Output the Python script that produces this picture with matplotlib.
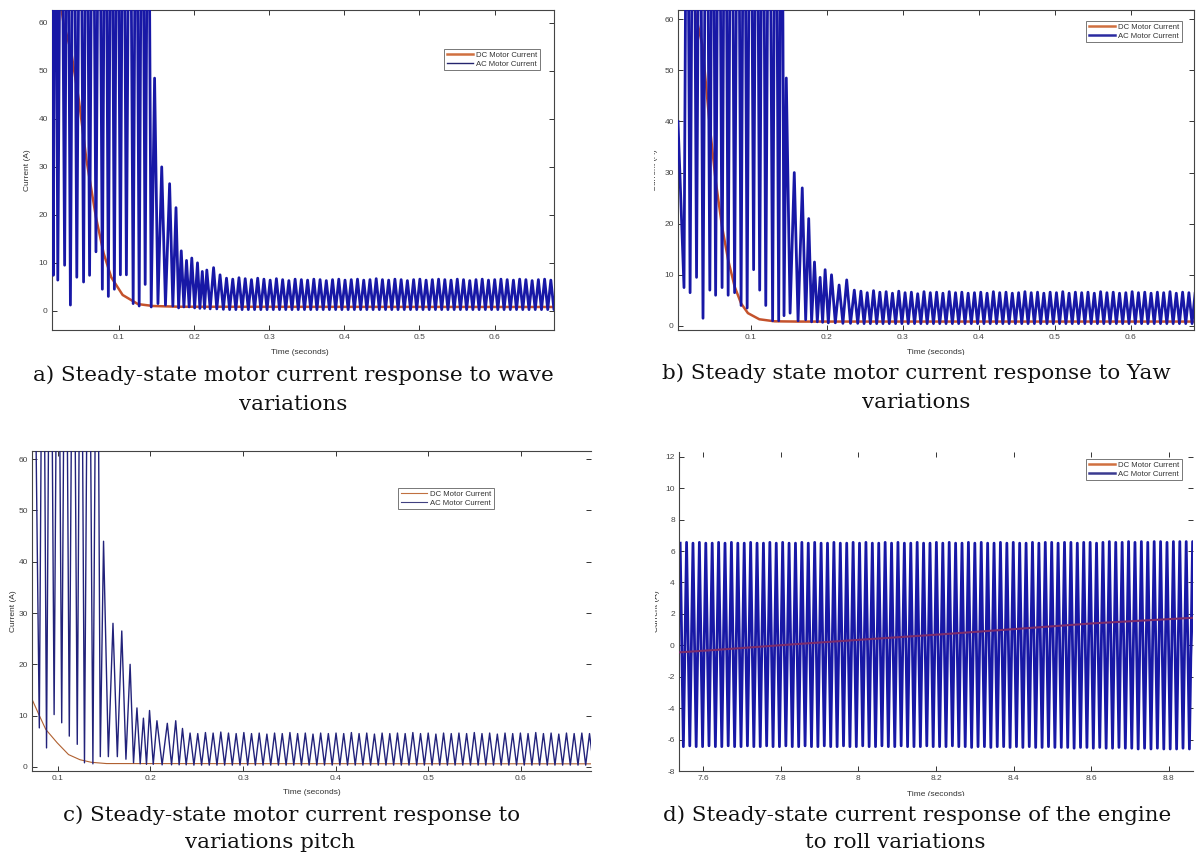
import numpy as np
import matplotlib
matplotlib.use('Agg')
import matplotlib.pyplot as plt
from matplotlib.lines import Line2D
from matplotlib.transforms import Bbox

plt.rcParams['axes.unicode_minus'] = False

# ---------------- data ----------------
# value 120 = spike that runs beyond the top of the axes (clipped)
# Panel a: wave variations
a_dc_t = [0.0235, 0.0263, 0.0365, 0.0467, 0.0568, 0.0695, 0.0797, 0.0898, 0.105, 0.1254, 0.1457, 0.18, 0.68]
a_dc_v = [63.0, 60.0, 54.0, 44.0, 31.5, 19.5, 12.0, 7.0, 3.3, 1.4, 1.0, 0.85, 0.8]
a_tr_t = [0.0105, 0.0127, 0.0157, 0.0187, 0.0232, 0.0278, 0.0316, 0.0355, 0.0398, 0.0440,
          0.0485, 0.0530, 0.0570, 0.0610, 0.0652, 0.0695, 0.0738, 0.0780, 0.0820, 0.0860,
          0.0900, 0.0940, 0.0980, 0.1020, 0.1060, 0.1100, 0.1145, 0.1190, 0.1230, 0.1270,
          0.1310, 0.1350, 0.1390, 0.1430, 0.1475, 0.1520, 0.1570, 0.1620, 0.1675, 0.1718,
          0.1760, 0.1795, 0.1830, 0.1865, 0.1900, 0.1935, 0.1970, 0.2008, 0.2046, 0.2078,
          0.2110, 0.2140, 0.2170, 0.2215, 0.2260, 0.2303, 0.2346, 0.2390]
a_tr_v = [120, 7.4, 120, 6.4, 120, 9.5, 120, 1.2, 120, 7.0,
          120, 6.0, 120, 7.4, 120, 12.3, 120, 4.5, 120, 3.0,
          120, 4.5, 120, 7.5, 120, 7.5, 120, 1.5, 120, 1.0,
          120, 5.5, 120, 0.8, 48.5, 1.5, 30.0, 1.2, 26.5, 1.0,
          21.5, 0.6, 12.5, 0.8, 10.5, 0.8, 11.0, 0.6, 10.0, 0.5,
          8.2, 0.5, 8.5, 0.4, 9.0, 0.4, 7.5, 0.3]
a_ss_t0, a_ss_period, a_ss_trough = 0.2432, 0.0083, 0.25
a_ss_peak = [6.8, 6.6, 6.9, 6.7, 6.5, 6.8, 6.6, 6.4, 6.7, 6.5,
             6.3, 6.6, 6.5, 6.4, 6.6, 6.5, 6.3, 6.5, 6.6, 6.4,
             6.5, 6.6, 6.4, 6.5, 6.7, 6.5, 6.4, 6.6, 6.5, 6.3,
             6.5, 6.6, 6.4, 6.5, 6.6, 6.5, 6.4, 6.6, 6.5, 6.3,
             6.5, 6.6, 6.4, 6.5, 6.6, 6.5, 6.4, 6.6, 6.5, 6.3,
             6.5, 6.6, 6.4, 6.5, 6.6]

# Panel b: yaw variations
b_dc_t = [0.026, 0.0284, 0.036, 0.0459, 0.0535, 0.062, 0.070, 0.0785, 0.087, 0.096, 0.111, 0.131, 0.161, 0.685]
b_dc_v = [62.0, 60.0, 55.0, 39.0, 28.5, 19.4, 12.9, 7.7, 4.4, 2.5, 1.3, 0.9, 0.85, 0.85]
b_tr_t = [0.0040, 0.0119, 0.0159, 0.0199, 0.0242, 0.0284, 0.0326, 0.0369, 0.0414, 0.0459,
          0.0497, 0.0535, 0.0578, 0.0620, 0.0660, 0.0700, 0.0742, 0.0785, 0.0828, 0.0870,
          0.0910, 0.0950, 0.0992, 0.1035, 0.1075, 0.1115, 0.1155, 0.1195, 0.1240, 0.1285,
          0.1325, 0.1365, 0.1405, 0.1435, 0.1465, 0.1515, 0.1570, 0.1620, 0.1675, 0.1720,
          0.1760, 0.1798, 0.1836, 0.1873, 0.1910, 0.1943, 0.1976, 0.2018, 0.2060, 0.2110,
          0.2160, 0.2210, 0.2260, 0.2310, 0.2360, 0.2405]
b_tr_v = [40, 7.5, 120, 6.5, 120, 9.5, 120, 1.5, 120, 7.0,
          120, 6.0, 120, 7.5, 120, 6.0, 120, 6.5, 120, 4.0,
          120, 3.5, 120, 11.0, 120, 7.0, 120, 4.0, 120, 1.0,
          120, 1.0, 120, 2.0, 48.5, 2.5, 30.0, 1.0, 27.0, 1.2,
          21.0, 0.8, 12.5, 0.8, 9.5, 0.7, 11.0, 0.6, 10.0, 0.6,
          8.0, 0.5, 9.0, 0.5, 7.0, 0.5]
b_ss_t0, b_ss_period, b_ss_trough = 0.2447, 0.0083, 0.45
b_ss_peak = [6.8, 6.5, 6.9, 6.6, 6.7, 6.4, 6.8, 6.5, 6.6, 6.3,
             6.7, 6.5, 6.6, 6.4, 6.7, 6.5, 6.6, 6.4, 6.5, 6.6,
             6.4, 6.7, 6.5, 6.6, 6.4, 6.5, 6.7, 6.5, 6.6, 6.4,
             6.6, 6.5, 6.7, 6.4, 6.6, 6.5, 6.6, 6.4, 6.7, 6.5,
             6.6, 6.4, 6.5, 6.7, 6.5, 6.6, 6.4, 6.6, 6.5, 6.7,
             6.4, 6.6, 6.5, 6.6, 6.5]

# Panel c: pitch variations
c_dc_t = [0.072, 0.0787, 0.0869, 0.0992, 0.1115, 0.1238, 0.136, 0.1525, 0.68]
c_dc_v = [13.2, 10.5, 7.3, 4.7, 2.4, 1.4, 0.9, 0.65, 0.6]
c_tr_t = [0.0728, 0.0799, 0.0838, 0.0877, 0.0918, 0.0959, 0.1000, 0.1041, 0.1082, 0.1123,
          0.1166, 0.1209, 0.1248, 0.1287, 0.1332, 0.1378, 0.1423, 0.1458, 0.1493, 0.1545,
          0.1595, 0.1642, 0.1690, 0.1735, 0.1780, 0.1817, 0.1854, 0.1889, 0.1924, 0.1957,
          0.1990, 0.2030, 0.2070, 0.2126, 0.2182, 0.2228, 0.2273, 0.2310, 0.2346, 0.2386]
c_tr_v = [120, 7.6, 120, 3.7, 120, 10.2, 120, 8.6, 120, 6.0,
          120, 4.4, 120, 0.8, 120, 0.6, 120, 2.0, 44.0, 2.0,
          28.0, 2.0, 26.5, 1.5, 20.0, 0.8, 11.5, 0.6, 9.5, 0.5,
          11.0, 0.5, 9.0, 0.4, 8.5, 0.4, 9.0, 0.4, 7.5, 0.4]
c_ss_t0, c_ss_period, c_ss_trough = 0.2428, 0.0083, 0.35
c_ss_peak = [6.6, 6.5, 6.7, 6.6, 6.8, 6.6, 6.5, 6.7, 6.5, 6.6,
             6.4, 6.6, 6.5, 6.7, 6.5, 6.6, 6.4, 6.6, 6.5, 6.6,
             6.5, 6.7, 6.5, 6.6, 6.4, 6.6, 6.5, 6.6, 6.5, 6.7,
             6.5, 6.6, 6.4, 6.6, 6.5, 6.6, 6.5, 6.7, 6.5, 6.6,
             6.4, 6.6, 6.5, 6.6, 6.5, 6.7, 6.5, 6.6, 6.4, 6.6,
             6.5, 6.6, 6.5, 6.6, 6.5]

# Panel d: roll variations
d_dc_t = [7.538, 7.629, 7.825, 8.021, 8.216, 8.412, 8.607, 8.862]
d_dc_v = [-0.45, -0.3, 0.05, 0.38, 0.7, 1.05, 1.4, 1.75]
d_t0, d_period = 7.541, 0.0165
d_peak = [6.5, 6.55, 6.5, 6.55, 6.5, 6.5, 6.55, 6.5, 6.55, 6.5,
          6.5, 6.55, 6.5, 6.5, 6.55, 6.5, 6.55, 6.5, 6.5, 6.55,
          6.5, 6.55, 6.5, 6.5, 6.55, 6.5, 6.5, 6.55, 6.5, 6.55,
          6.5, 6.5, 6.55, 6.5, 6.55, 6.5, 6.5, 6.55, 6.5, 6.5,
          6.55, 6.5, 6.55, 6.5, 6.5, 6.55, 6.5, 6.55, 6.5, 6.5,
          6.55, 6.5, 6.55, 6.5, 6.5, 6.55, 6.5, 6.55, 6.55, 6.5,
          6.55, 6.55, 6.5, 6.55, 6.55, 6.5, 6.55, 6.6, 6.55, 6.55,
          6.6, 6.55, 6.6, 6.55, 6.6, 6.6, 6.55, 6.6, 6.6, 6.6, 6.6, 6.6]
d_trough = [-6.45, -6.4, -6.45, -6.45, -6.4, -6.45, -6.45, -6.4, -6.45, -6.45,
            -6.4, -6.45, -6.45, -6.4, -6.45, -6.45, -6.4, -6.45, -6.45, -6.4,
            -6.45, -6.45, -6.4, -6.45, -6.45, -6.4, -6.45, -6.45, -6.4, -6.45,
            -6.45, -6.4, -6.45, -6.45, -6.4, -6.45, -6.45, -6.45, -6.4, -6.45,
            -6.45, -6.45, -6.4, -6.45, -6.45, -6.5, -6.45, -6.45, -6.5, -6.45,
            -6.45, -6.5, -6.45, -6.5, -6.45, -6.5, -6.5, -6.45, -6.5, -6.5,
            -6.5, -6.55, -6.5, -6.5, -6.55, -6.5, -6.55, -6.55, -6.5, -6.55,
            -6.55, -6.6, -6.55, -6.6, -6.55, -6.6, -6.6, -6.6, -6.55, -6.6, -6.6, -6.6]

time_ticks = [0.1, 0.2, 0.3, 0.4, 0.5, 0.6]
time_ticklabels = ['0.1', '0.2', '0.3', '0.4', '0.5', '0.6']
amp_ticks = [0, 10, 20, 30, 40, 50, 60]
d_xticks = [7.6, 7.8, 8.0, 8.2, 8.4, 8.6, 8.8]
d_xticklabels = ['7.6', '7.8', '8', '8.2', '8.4', '8.6', '8.8']
d_yticks = [-8, -6, -4, -2, 0, 2, 4, 6, 8, 10, 12]

legend_labels = ['DC Motor Current', 'AC Motor Current']
captions = {
    'a': ['a) Steady-state motor current response to wave', 'variations'],
    'b': ['b) Steady state motor current response to Yaw', 'variations'],
    'c': ['c) Steady-state motor current response to', 'variations pitch'],
    'd': ['d) Steady-state current response of the engine', 'to roll variations'],
}

# ---------------- helpers ----------------
W, H = 1196, 856
fig = plt.figure(figsize=(W / 100, H / 100), dpi=100)


def rect(l, t, r, b):
    return [l / W, 1 - b / H, (r - l) / W, (b - t) / H]


def humps(t0, period, peaks, troughs):
    t, v = [], []
    for i, p in enumerate(peaks):
        q = troughs[i] if np.ndim(troughs) else troughs
        t.extend([t0 + i * period, t0 + (i + 0.5) * period])
        v.extend([p, q])
    return t, v


def style(ax, hide_top=False, hide_right=False):
    for s in ax.spines.values():
        s.set_color('#444444')
        s.set_linewidth(0.8)
    if hide_top:
        ax.spines['top'].set_visible(False)
    if hide_right:
        ax.spines['right'].set_visible(False)
    ax.tick_params(direction='in', top=True, right=True, length=3.5, width=0.7,
                   labelsize=6, labelcolor='#444444', color='#333333', pad=3)
    for lab in ax.get_xticklabels() + ax.get_yticklabels():
        lab.set_family('Liberation Sans')


def legend(ax, l, t, dc_col, ac_col, dc_lw, ac_lw):
    hs = [Line2D([], [], color=dc_col, lw=dc_lw), Line2D([], [], color=ac_col, lw=ac_lw)]
    lg = ax.legend(hs, legend_labels, loc='upper left', bbox_to_anchor=(l / W, 1 - t / H),
                   bbox_transform=fig.transFigure, borderaxespad=0,
                   handlelength=3.4, handletextpad=0.4, borderpad=0.35, labelspacing=0.12,
                   fancybox=False, framealpha=1, prop={'family': 'Liberation Sans', 'size': 5.6})
    lg.get_frame().set_edgecolor('#777777')
    lg.get_frame().set_linewidth(0.7)
    for txt in lg.get_texts():
        txt.set_color('#333333')


def ac_panel(ax, tr_t, tr_v, t0, per, peaks, trough, dc_t, dc_v, ac_col, ac_lw, dc_col, dc_lw):
    st, sv = humps(t0, per, peaks, trough)
    ax.plot(dc_t, dc_v, color=dc_col, lw=dc_lw, zorder=2)
    ax.plot(list(tr_t) + st, list(tr_v) + sv, color=ac_col, lw=ac_lw,
            solid_joinstyle='round', zorder=3)


AC_BLUE = '#1818a6'
DC_RED = '#c4522c'

# ---------------- panel a ----------------
ax = fig.add_axes(rect(52, 10, 554, 330))
ac_panel(ax, a_tr_t, a_tr_v, a_ss_t0, a_ss_period, a_ss_peak, a_ss_trough,
         a_dc_t, a_dc_v, AC_BLUE, 2.0, DC_RED, 1.8)
ax.set_xlim(0.011, 0.679)
ax.set_ylim(-4.0, 62.7)
ax.set_xticks(time_ticks, time_ticklabels)
ax.set_yticks(amp_ticks)
style(ax)
legend(ax, 444, 49, '#d07040', '#24246e', 1.8, 1.0)

# ---------------- panel b ----------------
ax = fig.add_axes(rect(678, 10, 1194, 330))
ac_panel(ax, b_tr_t, b_tr_v, b_ss_t0, b_ss_period, b_ss_peak, b_ss_trough,
         b_dc_t, b_dc_v, AC_BLUE, 2.0, DC_RED, 1.8)
ax.set_xlim(0.004, 0.683)
ax.set_ylim(-0.8, 61.8)
ax.set_xticks(time_ticks, time_ticklabels)
ax.set_yticks(amp_ticks)
style(ax)
legend(ax, 1086, 21, '#d07040', '#2a2aa0', 1.8, 1.8)

# ---------------- panel c ----------------
ax = fig.add_axes(rect(32, 451, 591, 771))
ac_panel(ax, c_tr_t, c_tr_v, c_ss_t0, c_ss_period, c_ss_peak, c_ss_trough,
         c_dc_t, c_dc_v, '#22227a', 1.0, '#b06030', 0.8)
ax.set_xlim(0.072, 0.676)
ax.set_ylim(-0.8, 61.6)
ax.set_xticks(time_ticks, time_ticklabels)
ax.set_yticks(amp_ticks)
style(ax, hide_right=True)
legend(ax, 398, 488, '#c07040', '#404080', 0.8, 0.8)

# ---------------- panel d ----------------
ax = fig.add_axes(rect(679, 452, 1193, 771))
dt, dv = humps(d_t0, d_period, d_peak, d_trough)
ax.plot(dt, dv, color=AC_BLUE, lw=2.0, solid_joinstyle='round', zorder=2)
ax.plot(d_dc_t, d_dc_v, color='#7c2c6c', lw=1.5, zorder=3)
ax.set_xlim(7.538, 8.862)
ax.set_ylim(-8.0, 12.3)
ax.set_xticks(d_xticks, d_xticklabels)
ax.set_yticks(d_yticks)
style(ax, hide_top=True, hide_right=True)
legend(ax, 1086, 459, '#d07040', '#3a3a90', 1.8, 1.8)

# ---------------- axis labels ----------------
lab_kw = dict(fontsize=6, color='#333333', family='Liberation Sans', ha='center', va='center')
fig.text(28 / W, 1 - 170 / H, 'Current (A)', rotation=90, **lab_kw)
tb = fig.text(655 / W, 1 - 170 / H, 'Current (A)', rotation=90, **lab_kw)
tb.set_clip_box(Bbox.from_extents(654, 0, W, H)); tb.set_clip_on(True)
fig.text(14 / W, 1 - 611 / H, 'Current (A)', rotation=90, **lab_kw)
td = fig.text(656 / W, 1 - 611 / H, 'Current (A)', rotation=90, **lab_kw)
td.set_clip_box(Bbox.from_extents(655, 0, W, H)); td.set_clip_on(True)

fig.text(300 / W, 1 - 352 / H, 'Time (seconds)', **lab_kw)
xb = fig.text(936 / W, 1 - 353 / H, 'Time (seconds)', **lab_kw)
xb.set_clip_box(Bbox.from_extents(0, H - 355, W, H)); xb.set_clip_on(True)
fig.text(312 / W, 1 - 793 / H, 'Time (seconds)', **lab_kw)
xd = fig.text(936 / W, 1 - 794 / H, 'Time (seconds)', **lab_kw)
xd.set_clip_box(Bbox.from_extents(0, H - 796, W, H)); xd.set_clip_on(True)

# ---------------- captions ----------------
cap_kw = dict(fontsize=15.4, family='DejaVu Serif', color='#111111', ha='center', va='center')
cap_pos = {'a': [(293, 375), (293, 404)], 'b': [(916, 373), (916, 402)],
           'c': [(292, 815), (270, 843)], 'd': [(917, 815), (895, 843)]}
for k, lines in captions.items():
    for (x, y), s in zip(cap_pos[k], lines):
        fig.text(x / W, 1 - y / H, s, **cap_kw)

fig.savefig('out.png', dpi=100)
